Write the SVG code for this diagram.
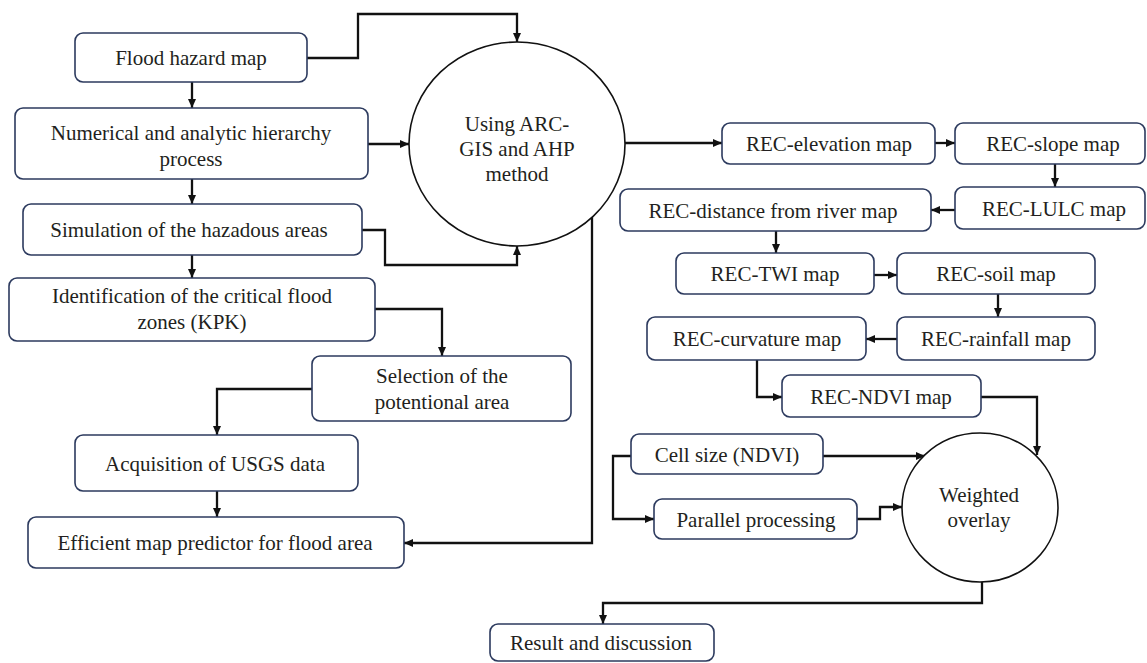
<svg xmlns="http://www.w3.org/2000/svg" width="1147" height="663" viewBox="0 0 1147 663">
<defs>
<style>
.box{fill:#fff;stroke:#2c3a5e;stroke-width:1.6}
.circ{fill:#fff;stroke:#111;stroke-width:1.6}
.t{font-family:'Liberation Serif','Times New Roman',serif;font-size:21px;fill:#231f20;text-anchor:middle}
.c{fill:none;stroke:#111;stroke-width:2.3;marker-end:url(#ah)}
</style>
<marker id="ah" markerUnits="userSpaceOnUse" markerWidth="9" markerHeight="8" refX="9" refY="4" orient="auto">
<path d="M0,0 L9,4 L0,8 z" fill="#111"/>
</marker>
</defs>
<rect width="1147" height="663" fill="#fff"/>

<g id="connectors">
<path class="c" d="M192,82 V108"/>
<path class="c" d="M192,179 V204"/>
<path class="c" d="M192,255 V278"/>
<path class="c" d="M375,309 H442 V356"/>
<path class="c" d="M312,389 H217 V435"/>
<path class="c" d="M217,491 V517"/>
<path class="c" d="M307,58 H358 V14 H517 V42"/>
<path class="c" d="M368,144 H409"/>
<path class="c" d="M362,230 H385 V265 H517 V246"/>
<path class="c" d="M592,217 V543 H404"/>
<path class="c" d="M625,143 H722"/>
<path class="c" d="M935,143 H955"/>
<path class="c" d="M1055,164 V187"/>
<path class="c" d="M955,210 H931"/>
<path class="c" d="M776,231 V253"/>
<path class="c" d="M874,275 H897"/>
<path class="c" d="M998,294 V317"/>
<path class="c" d="M897,339 H866"/>
<path class="c" d="M757,360 V397 H782"/>
<path class="c" d="M981,397 H1037 V455"/>
<path class="c" d="M823,456 H925"/>
<path class="c" d="M631,456 H613 V519 H654"/>
<path class="c" d="M857,519 H880 V507 H902"/>
<path class="c" d="M982,582 V603 H603 V624"/>
</g>

<g id="flood-hazard-map"><rect class="box" x="75" y="33" width="232" height="49" rx="8"/><text class="t" x="191" y="65">Flood hazard map</text></g>
<g id="numerical-ahp"><rect class="box" x="15" y="108" width="353" height="71" rx="8"/><text class="t" x="191" y="140">Numerical and analytic hierarchy</text><text class="t" x="191" y="166">process</text></g>
<g id="simulation"><rect class="box" x="23" y="204" width="339" height="51" rx="8"/><text class="t" x="189" y="237">Simulation of the hazadous areas</text></g>
<g id="identification"><rect class="box" x="9" y="278" width="366" height="63" rx="8"/><text class="t" x="192" y="303">Identification of the critical flood</text><text class="t" x="192" y="329">zones (KPK)</text></g>
<g id="selection"><rect class="box" x="312" y="356" width="259" height="65" rx="8"/><text class="t" x="442" y="383">Selection of the</text><text class="t" x="442" y="409">potentional area</text></g>
<g id="acquisition"><rect class="box" x="75" y="435" width="283" height="56" rx="8"/><text class="t" x="215" y="471">Acquisition of USGS data</text></g>
<g id="efficient"><rect class="box" x="28" y="517" width="376" height="51" rx="8"/><text class="t" x="215" y="550">Efficient map predictor for flood area</text></g>
<g id="arcgis-ahp"><ellipse class="circ" cx="517" cy="144" rx="108" ry="102"/><text class="t" x="517" y="131">Using ARC-</text><text class="t" x="517" y="156">GIS and AHP</text><text class="t" x="517" y="181">method</text></g>
<g id="rec-elevation"><rect class="box" x="722" y="123" width="213" height="41" rx="8"/><text class="t" x="829" y="151">REC-elevation map</text></g>
<g id="rec-slope"><rect class="box" x="955" y="123" width="190" height="41" rx="8"/><text class="t" x="1053" y="151">REC-slope map</text></g>
<g id="rec-lulc"><rect class="box" x="955" y="187" width="190" height="42" rx="8"/><text class="t" x="1054" y="216">REC-LULC map</text></g>
<g id="rec-distance"><rect class="box" x="620" y="189" width="311" height="42" rx="8"/><text class="t" x="773" y="218">REC-distance from river map</text></g>
<g id="rec-twi"><rect class="box" x="676" y="253" width="198" height="41" rx="8"/><text class="t" x="775" y="281">REC-TWI map</text></g>
<g id="rec-soil"><rect class="box" x="897" y="253" width="198" height="41" rx="8"/><text class="t" x="996" y="281">REC-soil map</text></g>
<g id="rec-rainfall"><rect class="box" x="897" y="317" width="198" height="43" rx="8"/><text class="t" x="996" y="346">REC-rainfall map</text></g>
<g id="rec-curvature"><rect class="box" x="647" y="317" width="219" height="43" rx="8"/><text class="t" x="757" y="346">REC-curvature map</text></g>
<g id="rec-ndvi"><rect class="box" x="782" y="375" width="199" height="42" rx="8"/><text class="t" x="881" y="404">REC-NDVI map</text></g>
<g id="cell-size"><rect class="box" x="631" y="434" width="192" height="40" rx="8"/><text class="t" x="727" y="462">Cell size (NDVI)</text></g>
<g id="parallel"><rect class="box" x="654" y="499" width="203" height="40" rx="8"/><text class="t" x="756" y="527">Parallel processing</text></g>
<g id="weighted-overlay"><ellipse class="circ" cx="980" cy="507.5" rx="78" ry="74.5"/><text class="t" x="979" y="502">Weighted</text><text class="t" x="979" y="527">overlay</text></g>
<g id="result"><rect class="box" x="490" y="624" width="224" height="37" rx="8"/><text class="t" x="601" y="650">Result and discussion</text></g>
</svg>
